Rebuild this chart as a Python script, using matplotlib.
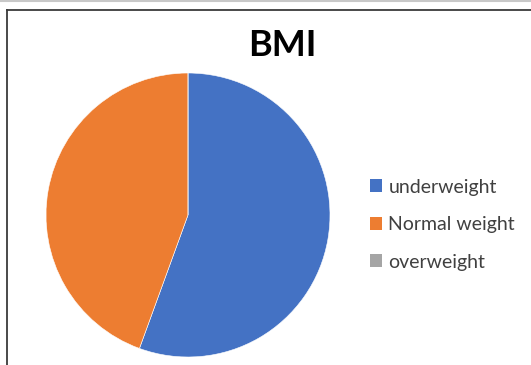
import matplotlib
matplotlib.use("Agg")
import matplotlib.pyplot as plt
from matplotlib.lines import Line2D
from matplotlib.patches import Patch

categories = ["underweight", "Normal weight", "overweight"]
counts = [5, 4, 0]
colors = ["#4472C4", "#ED7D31", "#A5A5A5"]
title = "BMI"

W, H = 531, 365
fig = plt.figure(figsize=(W / 100, H / 100), dpi=100)
fig.patch.set_facecolor("white")

# chart frame (top and left edges)
fig.add_artist(Line2D([0, 1], [1 - 1 / H, 1 - 1 / H], transform=fig.transFigure,
                      color="#c8c8c8", lw=1.5))
fig.add_artist(Line2D([6.5 / W, 1], [1 - 10 / H, 1 - 10 / H], transform=fig.transFigure,
                      color="#3a3a3a", lw=1.3))
fig.add_artist(Line2D([6.5 / W, 6.5 / W], [0, 1 - 10 / H], transform=fig.transFigure,
                      color="#3a3a3a", lw=1.3))

cx, cy, r = 188, 215, 142
ax = fig.add_axes([(cx - r) / W, (H - cy - r) / H, 2 * r / W, 2 * r / H])
wedges, _ = ax.pie(counts, colors=colors, startangle=90, counterclock=False,
                   radius=1.0, wedgeprops=dict(edgecolor="white", linewidth=0.4))
ax.set_xlim(-1, 1)
ax.set_ylim(-1, 1)
ax.set_aspect("equal")
ax.axis("off")

fig.text(282 / W, 1 - 45 / H, title, ha="center", va="center",
         fontsize=26, fontweight="bold", family="Lato", color="black")

handles = [Patch(facecolor=c, edgecolor="none") for c in colors]
leg = fig.legend(handles, categories, loc="upper left",
                 bbox_to_anchor=(362 / W, 1 - 171 / H), frameon=False,
                 prop=dict(family="Lato", size=14),
                 handlelength=0.65, handleheight=0.65, handletextpad=0.3,
                 labelspacing=1.05, borderaxespad=0)
for t in leg.get_texts():
    t.set_color("#404040")

fig.savefig("out.png", dpi=100, facecolor="white")
